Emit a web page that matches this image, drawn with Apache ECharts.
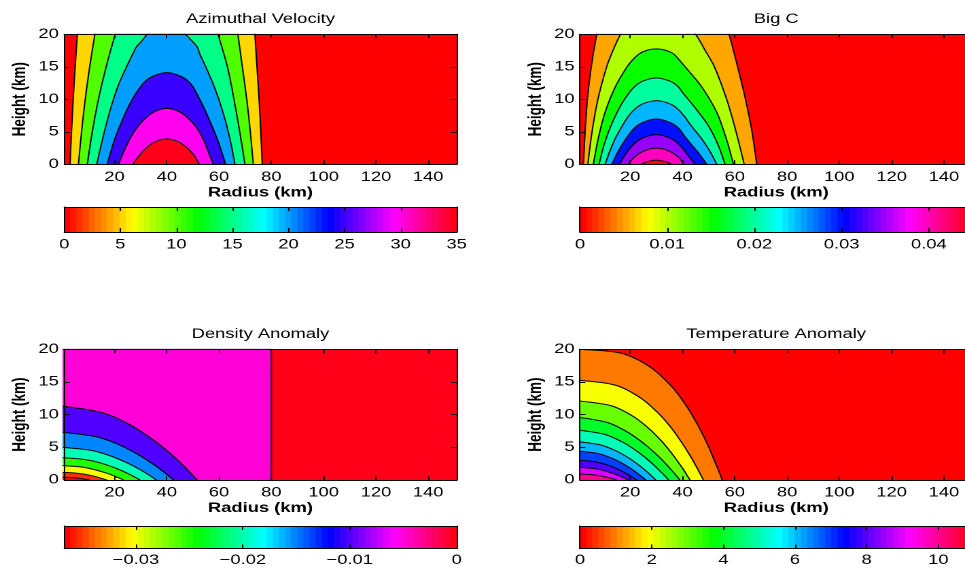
<!DOCTYPE html>
<html><head><meta charset="utf-8">
<script src="https://cdn.jsdelivr.net/npm/echarts@6/dist/echarts.min.js"></script>
<style>
html,body{margin:0;padding:0;background:#fff;overflow:hidden;}
#wrap{width:965px;height:570px;overflow:hidden;position:relative;background:#fff;}
#chart{width:710px;height:570px;transform:scaleX(1.3591549);transform-origin:0 0;}
</style></head><body>
<div id="wrap"><div id="chart"></div></div>
<script>
// ---------------- data ----------------
const radiusTicks = [20, 40, 60, 80, 100, 120, 140];
const heightTicks = [0, 5, 10, 15, 20];
const radiusRange = [0.8, 150.9];
const heightRange = [0, 20];

// Azimuthal Velocity (contours continue a little above the 20 km lid, where they are clipped)
const velRange = [0, 35];
const velTicks = [0, 5, 10, 15, 20, 25, 30, 35];
const velBgLevel = 0;
const velLevels = [5, 10, 15, 20, 25, 30, 35];
const velCurves = [
  [[3.0,0],[3.55,5],[4.2,10],[4.95,15],[5.8,20],[6.5,24],[73.0,24],[73.7,20],[74.5,15],[75.3,10],[75.95,5],[76.5,0]],
  [[6.2,0],[7.4,5],[8.8,10],[10.5,15],[12.5,20],[14.3,24],[65.8,24],[67.2,20],[68.9,15],[70.6,10],[71.95,5],[73.1,0]],
  [[9.6,0],[11.5,5],[13.85,10],[16.8,15],[20.3,20],[23.4,24],[56.7,24],[59.6,20],[63.2,15],[65.7,10],[67.9,5],[69.9,0]],
  [[13.2,0],[15.5,4],[18.1,8],[21.3,12],[24.6,15],[27,17],[28.3,18],[30.5,19],[32.6,20],[36,20.6],[40,20.85],[44,20.6],[47,20],[49.6,19],[51.7,18],[52.6,17],[54.9,15],[58.1,12],[61.5,8],[64.1,4],[66.1,0]],
  [[17.2,0],[20.2,4],[24.3,8],[26.8,10],[30.1,12],[32.4,13],[35.6,13.7],[40,14.1],[44.4,13.7],[47.6,13],[49.9,12],[52.6,10],[55,8],[59.2,4],[62.5,0]],
  [[21.5,0],[23.6,2],[26,4],[29.3,6],[33,7.5],[35.8,8.2],[40,8.6],[44.2,8.2],[47,7.5],[50.7,6],[53.8,4],[55.8,2],[57.8,0]],
  [[27,0],[29.8,1.5],[33,2.8],[35.8,3.5],[40,3.9],[44.2,3.5],[47,2.8],[50.2,1.5],[52.4,0]]
];

// Big C
const bigcRange = [0, 0.045];
const bigcTicks = [0, 0.01, 0.02, 0.03, 0.04];
const bigcBgLevel = 0;
const bigcLevels = [0.005, 0.01, 0.015, 0.02, 0.025, 0.03, 0.035, 0.04, 0.045];
const bigcCurves = [
  [[2.1,0],[2.74,5],[3.63,10],[5.1,15],[7.2,20],[9.4,24],[54.5,24],[57.8,20],[61.1,15],[64.1,10],[66.6,5],[68.4,0]],
  [[3.8,0],[5.4,5],[7.66,10],[11.0,15],[13.4,17.5],[16.3,20],[19.8,22],[23.5,23.4],[30,24.1],[36.5,23.4],[40.4,22],[45.0,20],[48.7,17.5],[52.2,15],[56.9,10],[60.5,5],[63.6,0]],
  [[5.9,0],[7.8,4],[10.4,8],[14.4,12],[18.8,15],[20.8,16],[23.5,17],[26.5,17.55],[30,17.75],[33.5,17.55],[36.5,17],[38.9,16],[41,15],[47.2,12],[53.1,8],[56.7,4],[59.5,0]],
  [[8.1,0],[10.0,3],[12.7,6],[16.3,9],[19.6,11],[21.8,12],[24.9,12.8],[30,13.3],[35.1,12.8],[38.2,12],[40.1,11],[44.2,9],[49.8,6],[53.6,3],[56.3,0]],
  [[10.4,0],[12.2,2],[14.3,4],[17.1,6],[19.5,7.5],[21.8,8.5],[24.8,9.3],[30,9.8],[35.2,9.3],[38.2,8.5],[40.5,7.5],[43.2,6],[47.2,4],[50.5,2],[53.1,0]],
  [[13,0],[15.4,2],[18.5,4],[21.4,5.5],[24.6,6.4],[30,6.96],[35.4,6.4],[38.6,5.5],[41.4,4],[45.6,2],[49.3,0]],
  [[15.9,0],[18.1,1.5],[21.1,3],[24.5,4],[30,4.57],[35.5,4],[38.9,3],[41.9,1.5],[44.8,0]],
  [[19.3,0],[21.3,1],[25,2],[30,2.5],[35,2],[38.7,1],[40.4,0]],
  [[24.2,0],[26.1,0.35],[30,0.64],[33.9,0.35],[35.8,0]]
];

// Density Anomaly
const densRange = [-0.0367, 0];
const densTicks = [-0.03, -0.02, -0.01, 0];
const densBgLevel = 0;
const densCutLevel = -0.005;
const densCut = [[0,20],[80,20],[80,0]];
const densFillLevels = [-0.01, -0.015, -0.02, -0.025, -0.03, -0.035, -0.0367];
const densCurves = [
  [[0,11.3],[15.5,10.28],[25.8,8.48],[36.1,5.76],[43.9,3.14],[49.0,1.10],[51.6,0]],
  [[0,7.3],[12.8,6.64],[21.3,5.48],[29.8,3.72],[36.2,2.03],[40.5,0.71],[42.6,0]],
  [[0,5.0],[10.8,4.55],[18.0,3.75],[25.2,2.55],[30.6,1.39],[34.2,0.49],[36.0,0]],
  [[0,3.42],[8.9,3.11],[14.9,2.57],[20.9,1.74],[25.3,0.95],[28.3,0.33],[29.8,0]],
  [[0,2.2],[7.05,2.0],[11.75,1.65],[16.45,1.12],[20.0,0.61],[22.3,0.21],[23.5,0]],
  [[0,1.17],[5.1,1.06],[8.55,0.88],[12.0,0.6],[14.5,0.32],[16.2,0.11],[17.1,0]],
  [[0,0.42],[3.15,0.38],[5.25,0.32],[7.35,0.21],[8.9,0.12],[10.0,0.04],[10.5,0]]
];

// Temperature Anomaly
const tempRange = [0, 10.95];
const tempTicks = [0, 2, 4, 6, 8, 10];
const tempBgLevel = 0;
const tempLevels = [1, 2, 3, 4, 5, 6, 7, 8, 9, 10];
const tempCurves = [
  [[0,20],[16.6,19.4],[27.6,17.3],[35.9,14.3],[41.4,11.4],[45.8,8.45],[49.7,5.35],[52.4,2.8],[54.1,1.15],[55.2,0]],
  [[0,15.25],[14.4,14.5],[24,12.55],[31.2,10.05],[36,7.82],[39.8,5.67],[43.2,3.54],[45.6,1.83],[47.0,0.75],[48,0]],
  [[0,12.1],[12.9,11.34],[21.5,9.64],[27.9,7.61],[32.2,5.86],[35.6,4.22],[38.6,2.6],[40.8,1.34],[42.0,0.54],[42.9,0]],
  [[0,9.6],[11.7,8.74],[19.5,7.2],[25.35,5.54],[29.25,4.2],[32.4,2.99],[35.1,1.82],[37.05,0.94],[38.2,0.38],[39,0]],
  [[0,7.65],[10.4,6.96],[17.35,5.74],[22.56,4.42],[26.0,3.35],[28.8,2.38],[31.2,1.45],[33.0,0.75],[34.0,0.31],[34.7,0]],
  [[0,5.87],[8.94,5.34],[14.9,4.40],[19.37,3.39],[22.35,2.57],[24.73,1.83],[26.82,1.12],[28.31,0.57],[29.2,0.23],[29.8,0]],
  [[0,4.44],[7.8,4.04],[13,3.33],[16.9,2.56],[19.5,1.94],[21.58,1.38],[23.4,0.84],[24.7,0.43],[25.48,0.18],[26,0]],
  [[0,3.06],[6.75,2.78],[11.25,2.30],[14.63,1.77],[16.88,1.34],[18.68,0.95],[20.25,0.58],[21.38,0.30],[22.05,0.12],[22.5,0]],
  [[0,1.94],[5.79,1.77],[9.65,1.46],[12.55,1.12],[14.48,0.85],[16.02,0.60],[17.37,0.37],[18.34,0.19],[18.91,0.08],[19.3,0]],
  [[0,0.92],[4.5,0.84],[7.5,0.69],[9.75,0.53],[11.25,0.40],[12.45,0.29],[13.5,0.17],[14.25,0.09],[14.7,0.04],[15,0]]
];

// ---------------- colour map (MATLAB hsv, 64 entries) ----------------
function hsvRGB(i) {
  const h = (i / 64) * 6, k = Math.floor(h), f = h - k;
  let r, g, b;
  if (k === 0) { r = 1; g = f; b = 0; }
  else if (k === 1) { r = 1 - f; g = 1; b = 0; }
  else if (k === 2) { r = 0; g = 1; b = f; }
  else if (k === 3) { r = 0; g = 1 - f; b = 1; }
  else if (k === 4) { r = f; g = 0; b = 1; }
  else { r = 1; g = 0; b = 1 - f; }
  return 'rgb(' + Math.round(r * 255) + ',' + Math.round(g * 255) + ',' + Math.round(b * 255) + ')';
}
function levelColor(v, range) {
  let i = Math.floor((v - range[0]) / (range[1] - range[0]) * 64 + 1e-9);
  i = Math.max(0, Math.min(63, i));
  return hsvRGB(i);
}

// ---------------- layout (reference pixels; x is divided by the stretch) ----------------
const S = 965 / 710;
const U = v => v / S;
const FONT = 'Liberation Sans, Arial, Helvetica, sans-serif';
const PW = 392.4;

const panels = [
  { title: 'Azimuthal Velocity', left: 64.3, top: 34.3, h: 130, cbTop: 207, cbH: 25, range: velRange, ticks: velTicks,
    bg: velBgLevel, curves: velCurves, fills: velLevels, cut: null },
  { title: 'Big C', left: 580, top: 34.3, h: 130, cbTop: 207, cbH: 25, range: bigcRange, ticks: bigcTicks,
    bg: bigcBgLevel, curves: bigcCurves, fills: bigcLevels, cut: null },
  { title: 'Density Anomaly', left: 64.3, top: 349.3, h: 130.7, cbTop: 526, cbH: 22.5, range: densRange, ticks: densTicks,
    bg: densBgLevel, curves: densCurves, fills: densFillLevels, cut: { data: densCut, level: densCutLevel } },
  { title: 'Temperature Anomaly', left: 580, top: 349.3, h: 130.7, cbTop: 526, cbH: 22.5, range: tempRange, ticks: tempTicks,
    bg: tempBgLevel, curves: tempCurves, fills: tempLevels, cut: null }
];

const grid = [], xAxis = [], yAxis = [], series = [], graphic = [];
const axisLine = { show: true, onZero: false, lineStyle: { color: '#000', width: 1 } };
const labelStyle = { color: '#000', fontSize: 13.5, fontFamily: FONT };
const fmt = v => String(v).replace('-', '\u2212');

panels.forEach((p, i) => {
  // plot grid
  grid.push({ left: U(p.left), top: p.top, width: U(PW), height: p.h, show: true,
    backgroundColor: levelColor(p.bg, p.range), borderWidth: 0, containLabel: false, outerBoundsMode: 'none' });
  const g = grid.length - 1;
  xAxis.push({ gridIndex: g, type: 'value', position: 'bottom', min: radiusRange[0], max: radiusRange[1], z: 10,
    axisLine, splitLine: { show: false },
    axisTick: { show: true, inside: true, length: 4, customValues: radiusTicks, lineStyle: { color: '#000' } },
    axisLabel: Object.assign({ customValues: radiusTicks, margin: 6 }, labelStyle) });
  xAxis.push({ gridIndex: g, type: 'value', position: 'top', min: radiusRange[0], max: radiusRange[1], z: 10,
    axisLine, splitLine: { show: false },
    axisTick: { show: true, inside: true, length: 4, customValues: radiusTicks, lineStyle: { color: '#000' } },
    axisLabel: { show: false } });
  yAxis.push({ gridIndex: g, type: 'value', position: 'left', min: heightRange[0], max: heightRange[1], interval: 5, z: 10,
    axisLine, splitLine: { show: false },
    axisTick: { show: true, inside: true, length: 4, lineStyle: { color: '#000' } },
    axisLabel: Object.assign({ margin: 4 }, labelStyle) });
  yAxis.push({ gridIndex: g, type: 'value', position: 'right', min: heightRange[0], max: heightRange[1], interval: 5, z: 10,
    axisLine, splitLine: { show: false },
    axisTick: { show: true, inside: true, length: 4, lineStyle: { color: '#000' } },
    axisLabel: { show: false } });
  const xi = xAxis.length - 2, yi = yAxis.length - 2;

  const addArea = (data, level, smooth) => {
    series.push({ type: 'line', xAxisIndex: xi, yAxisIndex: yi, data, symbol: 'none', showSymbol: false,
      smooth: smooth, clip: true, silent: true, animation: false,
      lineStyle: { color: '#000', width: 1 },
      areaStyle: { color: levelColor(level, p.range), opacity: 1, origin: 'start' } });
  };
  if (p.cut) addArea(p.cut.data, p.cut.level, false);
  p.curves.forEach((c, k) => addArea(c, p.fills[k], 0.3));

  // colour bar
  grid.push({ left: U(p.left), top: p.cbTop, width: U(PW), height: p.cbH, show: false, containLabel: false, outerBoundsMode: 'none' });
  const cg = grid.length - 1;
  xAxis.push({ gridIndex: cg, type: 'value', position: 'bottom', min: p.range[0], max: p.range[1], z: 10,
    axisLine, splitLine: { show: false },
    axisTick: { show: true, inside: true, length: 4, customValues: p.ticks, lineStyle: { color: '#000' } },
    axisLabel: Object.assign({ customValues: p.ticks, margin: i < 2 ? 6 : 5, formatter: fmt }, labelStyle) });
  xAxis.push({ gridIndex: cg, type: 'value', position: 'top', min: p.range[0], max: p.range[1], z: 10,
    axisLine, splitLine: { show: false },
    axisTick: { show: true, inside: true, length: 4, customValues: p.ticks, lineStyle: { color: '#000' } },
    axisLabel: { show: false } });
  yAxis.push({ gridIndex: cg, type: 'value', position: 'left', min: 0, max: 1, z: 10, axisLine,
    splitLine: { show: false }, axisTick: { show: false }, axisLabel: { show: false } });
  yAxis.push({ gridIndex: cg, type: 'value', position: 'right', min: 0, max: 1, z: 10, axisLine,
    splitLine: { show: false }, axisTick: { show: false }, axisLabel: { show: false } });
  const cxi = xAxis.length - 2, cyi = yAxis.length - 2;
  const cells = [];
  const step = (p.range[1] - p.range[0]) / 64;
  for (let c = 0; c < 64; c++) cells.push([p.range[0] + c * step, p.range[0] + (c + 1) * step, c]);
  series.push({ type: 'custom', xAxisIndex: cxi, yAxisIndex: cyi, data: cells, silent: true, animation: false,
    renderItem: (params, api) => {
      const a = api.coord([api.value(0), 1]);
      const b = api.coord([api.value(1), 0]);
      return { type: 'rect', shape: { x: a[0], y: a[1], width: b[0] - a[0] + 0.5, height: b[1] - a[1] },
        style: { fill: hsvRGB(api.value(2)) } };
    } });

  // texts
  const cx = U(p.left + PW / 2);
  graphic.push({ type: 'text', x: cx, y: p.top - 14.8, silent: true,
    style: { text: p.title, fill: '#000', fontSize: 13.5, fontFamily: FONT, align: 'center', verticalAlign: 'middle',
      textAlign: 'center', textVerticalAlign: 'middle' } });
  graphic.push({ type: 'text', x: cx, y: p.top + p.h + 28.5, silent: true,
    style: { text: 'Radius (km)', fill: '#000', fontSize: 13.5, fontWeight: 'bold', fontFamily: FONT,
      align: 'center', verticalAlign: 'middle', textAlign: 'center', textVerticalAlign: 'middle' } });
  graphic.push({ type: 'text', x: U(p.left - 44), y: p.top + p.h / 2, rotation: Math.PI / 2, silent: true,
    style: { text: 'Height (km)', fill: '#000', fontSize: 13.5, fontWeight: 'bold', fontFamily: FONT,
      align: 'center', verticalAlign: 'middle', textAlign: 'center', textVerticalAlign: 'middle' } });
});

const chart = echarts.init(document.getElementById('chart'), null, { renderer: 'canvas', devicePixelRatio: 2 });
chart.setOption({
  animation: false,
  backgroundColor: '#fff',
  grid, xAxis, yAxis, series,
  graphic: { elements: graphic }
});
</script>
</body></html>
